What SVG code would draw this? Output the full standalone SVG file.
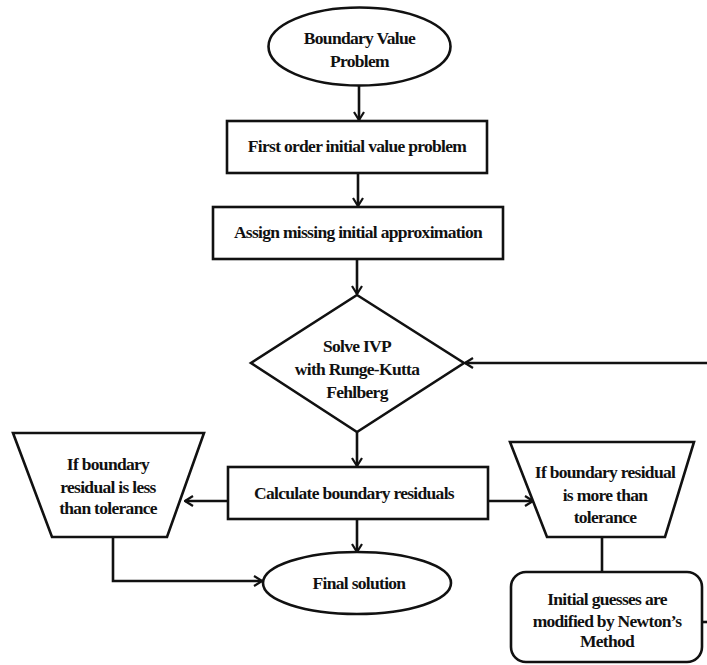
<svg xmlns="http://www.w3.org/2000/svg" width="707" height="665" viewBox="0 0 707 665">
<defs>
<marker id="arr" viewBox="0 0 12 12" refX="11" refY="6" markerWidth="12" markerHeight="12" markerUnits="userSpaceOnUse" orient="auto">
<path d="M3,1 L11,6 L3,11" fill="none" stroke="#111" stroke-width="2.2" stroke-linejoin="miter"/>
</marker>
</defs>
<style>
.s{fill:#fff;stroke:#111;stroke-width:2.6}
.t{font-family:"Liberation Serif","Times New Roman",serif;font-weight:bold;font-size:17.5px;fill:#111;text-anchor:middle;letter-spacing:-0.7px}
.c{fill:none;stroke:#111;stroke-width:2.6}
</style>
<rect width="707" height="665" fill="#fff"/>
<g id="connectors">
<line class="c" x1="359" y1="86" x2="359" y2="120" marker-end="url(#arr)"/>
<line class="c" x1="358" y1="173" x2="358" y2="206" marker-end="url(#arr)"/>
<line class="c" x1="357" y1="259" x2="357" y2="294" marker-end="url(#arr)"/>
<line class="c" x1="357" y1="432" x2="357" y2="466" marker-end="url(#arr)"/>
<line class="c" x1="357" y1="519" x2="357" y2="552" marker-end="url(#arr)"/>
<line class="c" x1="228" y1="501" x2="185" y2="501" marker-end="url(#arr)"/>
<line class="c" x1="488" y1="501" x2="533" y2="501" marker-end="url(#arr)"/>
<polyline class="c" points="113,537 113,581 262,581" marker-end="url(#arr)"/>
<line class="c" x1="602" y1="537" x2="602" y2="572"/>
<line class="c" x1="702" y1="622" x2="707" y2="622"/>
<line class="c" x1="707" y1="363" x2="465" y2="363" marker-end="url(#arr)"/>
</g>
<g id="bvp">
<ellipse class="s" cx="359.5" cy="46.5" rx="91" ry="39"/>
<text class="t" x="359.5" y="44">Boundary Value</text>
<text class="t" x="359.5" y="67">Problem</text>
</g>
<g id="first-order">
<rect class="s" x="227" y="121" width="260" height="52"/>
<text class="t" x="357" y="152">First order initial value problem</text>
</g>
<g id="assign">
<rect class="s" x="213" y="207" width="290" height="52"/>
<text class="t" x="358" y="238">Assign missing initial approximation</text>
</g>
<g id="solve">
<polygon class="s" points="357,295 464,363 357,432 251,363"/>
<text class="t" x="357" y="352">Solve IVP</text>
<text class="t" x="357" y="375">with Runge-Kutta</text>
<text class="t" x="357" y="398">Fehlberg</text>
</g>
<g id="calc">
<rect class="s" x="228" y="467" width="260" height="52"/>
<text class="t" x="354" y="499">Calculate boundary residuals</text>
</g>
<g id="less">
<polygon class="s" points="13,433 204,433 167,537 52,537"/>
<text class="t" x="108" y="470">If boundary</text>
<text class="t" x="108" y="493">residual is less</text>
<text class="t" x="108" y="514">than tolerance</text>
</g>
<g id="more">
<polygon class="s" points="510,442 694,442 665,537 547,537"/>
<text class="t" x="605" y="478">If boundary residual</text>
<text class="t" x="605" y="501">is more than</text>
<text class="t" x="605" y="523">tolerance</text>
</g>
<g id="final">
<ellipse class="s" cx="357" cy="583" rx="94" ry="31"/>
<text class="t" x="359" y="589">Final solution</text>
</g>
<g id="newton">
<rect class="s" x="511" y="572" width="191" height="90" rx="15" ry="15"/>
<text class="t" x="607" y="605">Initial guesses are</text>
<text class="t" x="607" y="627">modified by Newton’s</text>
<text class="t" x="607" y="647">Method</text>
</g>
</svg>
